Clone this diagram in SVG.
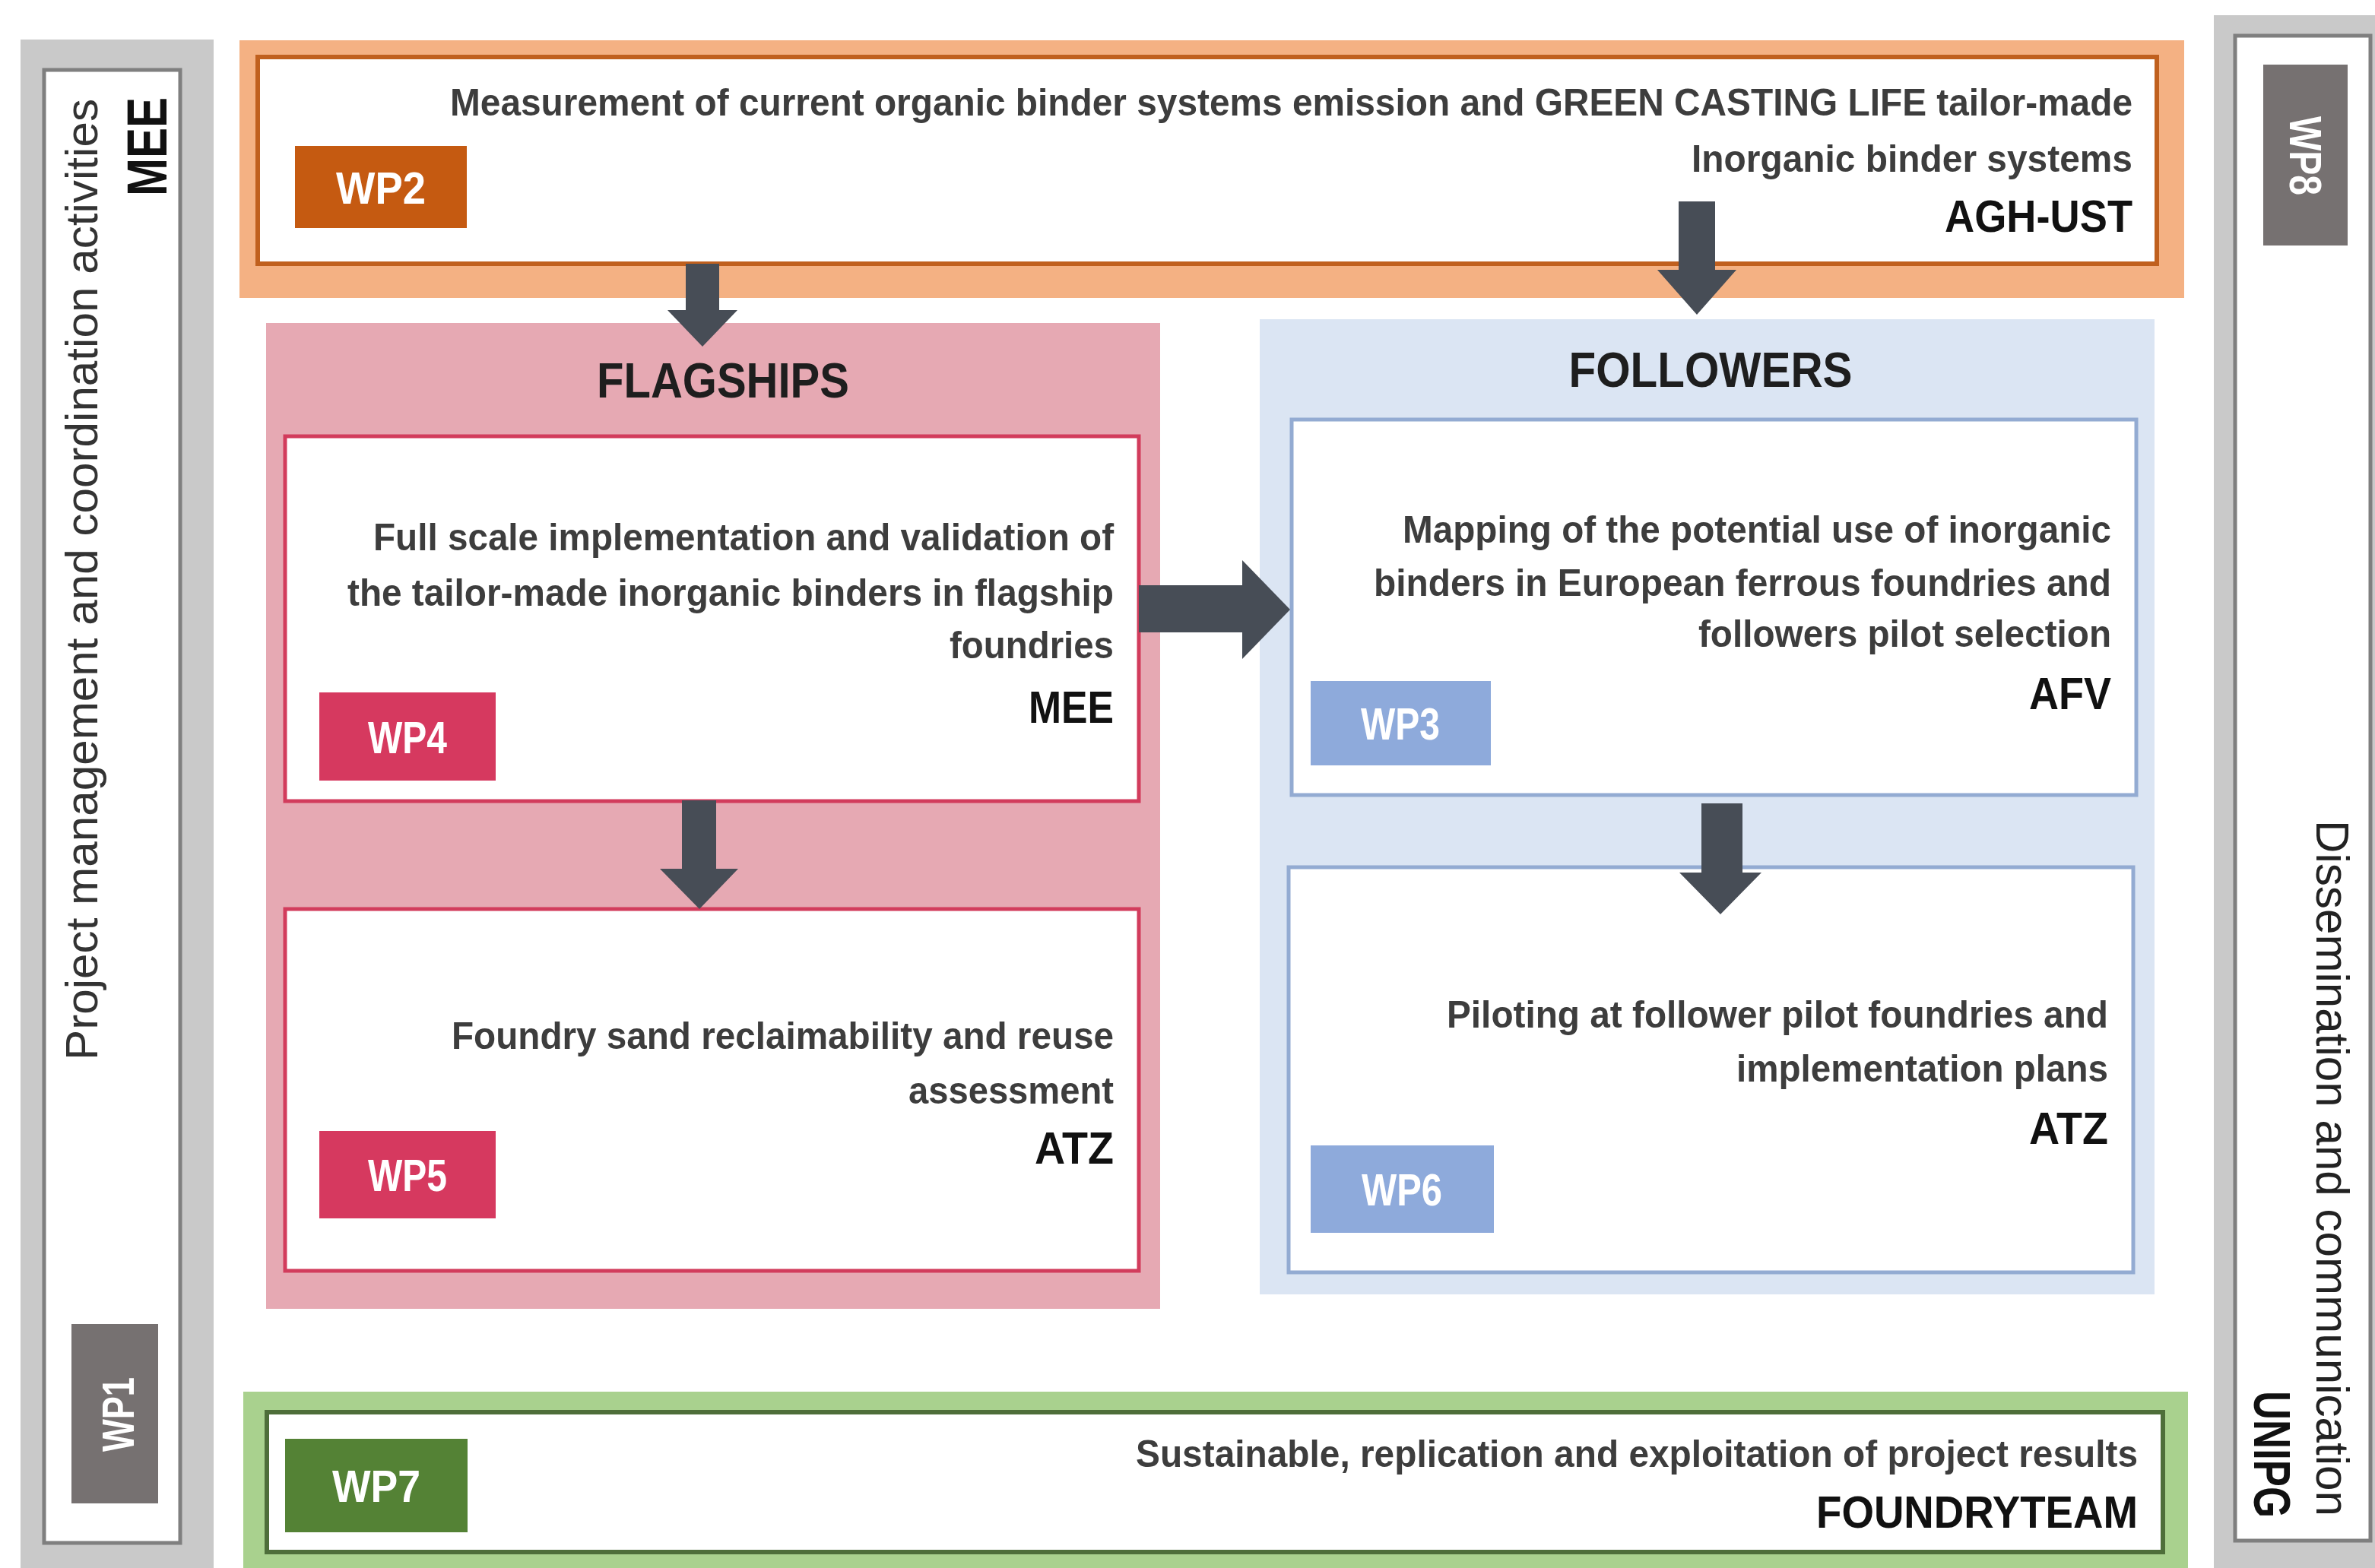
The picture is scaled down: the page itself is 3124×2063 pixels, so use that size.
<svg xmlns="http://www.w3.org/2000/svg" width="3124" height="2063" viewBox="0 0 3124 2063">
<style>
text{font-family:"Liberation Sans",Arial,sans-serif}
.body{font-size:50px;font-weight:bold;fill:#3d3d3d;text-anchor:end}
.name{font-size:60px;font-weight:bold;fill:#111;text-anchor:end}
.title{font-size:64px;font-weight:bold;fill:#1e1e1e;text-anchor:middle}
.wp{font-size:60px;font-weight:bold;fill:#fff;text-anchor:middle}
.side{fill:#c9c9c9}
.sidein{fill:#fff;stroke:#7f7f7f;stroke-width:5}
.gray{fill:#767171}
.fbox{fill:#fff;stroke:#d23c5c;stroke-width:5}
.bbox{fill:#fff;stroke:#93abd2;stroke-width:5}
.arrow{fill:#474d56}
</style>
<rect width="3124" height="2063" fill="#fff"/>
<g id="wp1">
<rect class="side" x="27" y="52" width="254" height="2020"/>
<rect class="sidein" x="58" y="92" width="179" height="1938"/>
<text transform="translate(128,1395) rotate(-90)" font-size="60" fill="#333" textLength="1265" lengthAdjust="spacingAndGlyphs">Project management and coordination activities</text>
<text transform="translate(219,128) rotate(-90)" font-size="74" font-weight="bold" fill="#111" text-anchor="end" textLength="130" lengthAdjust="spacingAndGlyphs">MEE</text>
<rect class="gray" x="94" y="1742" width="114" height="236"/>
<text class="wp" transform="translate(176,1861) rotate(-90)" textLength="98" lengthAdjust="spacingAndGlyphs">WP1</text>
</g>
<g id="wp8">
<rect class="side" x="2912" y="20" width="220" height="2050"/>
<rect class="sidein" x="2940" y="47" width="178" height="1980"/>
<rect class="gray" x="2977" y="85" width="111" height="238"/>
<text class="wp" transform="translate(3012,205) rotate(90)" textLength="104" lengthAdjust="spacingAndGlyphs">WP8</text>
<text transform="translate(3047,1995) rotate(90)" font-size="62" fill="#222" text-anchor="end" textLength="916" lengthAdjust="spacingAndGlyphs">Dissemination and communication</text>
<text transform="translate(2965,1997) rotate(90)" font-size="68" font-weight="bold" fill="#111" text-anchor="end" textLength="167" lengthAdjust="spacingAndGlyphs">UNIPG</text>
</g>
<g id="wp2">
<rect x="315" y="53" width="2558" height="339" fill="#f4b183"/>
<rect x="339" y="75" width="2498" height="272" fill="#fff" stroke="#c0601e" stroke-width="6"/>
<rect x="388" y="192" width="226" height="108" fill="#c55a11"/>
<text class="wp" x="501" y="268" textLength="118" lengthAdjust="spacingAndGlyphs">WP2</text>
<text class="body" x="2805" y="152" textLength="2213" lengthAdjust="spacingAndGlyphs">Measurement of current organic binder systems emission and GREEN CASTING LIFE tailor-made</text>
<text class="body" x="2805" y="226" textLength="580" lengthAdjust="spacingAndGlyphs">Inorganic binder systems</text>
<text class="name" x="2805" y="305" textLength="247" lengthAdjust="spacingAndGlyphs">AGH-UST</text>
</g>
<g id="flagships">
<rect x="350" y="425" width="1176" height="1297" fill="#e6a9b3"/>
<text class="title" x="951" y="523" textLength="332" lengthAdjust="spacingAndGlyphs">FLAGSHIPS</text>
</g>
<g id="wp4">
<rect class="fbox" x="375" y="574" width="1123" height="480"/>
<rect x="420" y="911" width="232" height="116" fill="#d6395f"/>
<text class="wp" x="536" y="991" textLength="104" lengthAdjust="spacingAndGlyphs">WP4</text>
<text class="body" x="1465" y="724" textLength="974" lengthAdjust="spacingAndGlyphs">Full scale implementation and validation of</text>
<text class="body" x="1465" y="797" textLength="1008" lengthAdjust="spacingAndGlyphs">the tailor-made inorganic binders in flagship</text>
<text class="body" x="1465" y="866" textLength="216" lengthAdjust="spacingAndGlyphs">foundries</text>
<text class="name" x="1465" y="951" textLength="112" lengthAdjust="spacingAndGlyphs">MEE</text>
</g>
<g id="wp5">
<rect class="fbox" x="375" y="1196" width="1123" height="476"/>
<rect x="420" y="1488" width="232" height="115" fill="#d6395f"/>
<text class="wp" x="536" y="1567" textLength="104" lengthAdjust="spacingAndGlyphs">WP5</text>
<text class="body" x="1465" y="1380" textLength="871" lengthAdjust="spacingAndGlyphs">Foundry sand reclaimability and reuse</text>
<text class="body" x="1465" y="1452" textLength="270" lengthAdjust="spacingAndGlyphs">assessment</text>
<text class="name" x="1465" y="1531" textLength="104" lengthAdjust="spacingAndGlyphs">ATZ</text>
</g>
<g id="followers">
<rect x="1657" y="420" width="1177" height="1283" fill="#dbe5f3"/>
<text class="title" x="2250" y="509" textLength="373" lengthAdjust="spacingAndGlyphs">FOLLOWERS</text>
</g>
<g id="wp3">
<rect class="bbox" x="1699" y="552" width="1111" height="494"/>
<rect x="1724" y="896" width="237" height="111" fill="#8eaadb"/>
<text class="wp" x="1842" y="973" textLength="104" lengthAdjust="spacingAndGlyphs">WP3</text>
<text class="body" x="2777" y="714" textLength="932" lengthAdjust="spacingAndGlyphs">Mapping of the potential use of inorganic</text>
<text class="body" x="2777" y="784" textLength="970" lengthAdjust="spacingAndGlyphs">binders in European ferrous foundries and</text>
<text class="body" x="2777" y="851" textLength="543" lengthAdjust="spacingAndGlyphs">followers pilot selection</text>
<text class="name" x="2777" y="933" textLength="108" lengthAdjust="spacingAndGlyphs">AFV</text>
</g>
<g id="wp6">
<rect class="bbox" x="1695" y="1141" width="1111" height="533"/>
<rect x="1724" y="1507" width="241" height="115" fill="#8eaadb"/>
<text class="wp" x="1844" y="1586" textLength="106" lengthAdjust="spacingAndGlyphs">WP6</text>
<text class="body" x="2773" y="1352" textLength="870" lengthAdjust="spacingAndGlyphs">Piloting at follower pilot foundries and</text>
<text class="body" x="2773" y="1423" textLength="489" lengthAdjust="spacingAndGlyphs">implementation plans</text>
<text class="name" x="2773" y="1505" textLength="104" lengthAdjust="spacingAndGlyphs">ATZ</text>
</g>
<g id="wp7">
<rect x="320" y="1831" width="2558" height="240" fill="#a9d18e"/>
<rect x="351" y="1858" width="2494" height="184" fill="#fff" stroke="#4e6e3a" stroke-width="6"/>
<rect x="375" y="1893" width="240" height="123" fill="#548235"/>
<text class="wp" x="495" y="1976" textLength="116" lengthAdjust="spacingAndGlyphs">WP7</text>
<text class="body" x="2812" y="1930" textLength="1318" lengthAdjust="spacingAndGlyphs">Sustainable, replication and exploitation of project results</text>
<text class="name" x="2812" y="2010" textLength="423" lengthAdjust="spacingAndGlyphs">FOUNDRYTEAM</text>
</g>
<g id="connectors">
<path class="arrow" d="M902,347 H946 V408 H970 L924,456 L878,408 H902 Z"/>
<path class="arrow" d="M2208,265 H2256 V355 H2284 L2232,414 L2180,355 H2208 Z"/>
<path class="arrow" d="M1498,770 H1634 V737 L1697,802 L1634,867 V832 H1498 Z"/>
<path class="arrow" d="M897,1053 H942 V1143 H971 L920,1196 L868,1143 H897 Z"/>
<path class="arrow" d="M2238,1057 H2292 V1148 H2317 L2263,1203 L2209,1148 H2238 Z"/>
</g>
</svg>
